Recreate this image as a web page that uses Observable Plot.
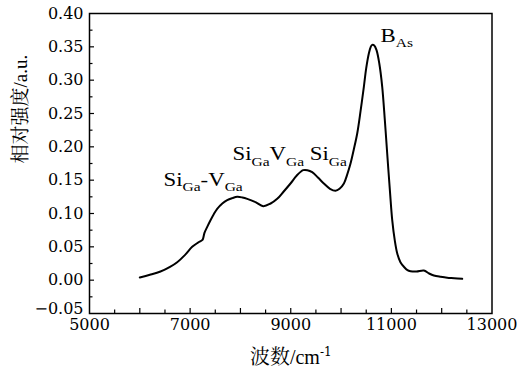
<!DOCTYPE html>
<html>
<head>
<meta charset="utf-8">
<script src="https://cdn.jsdelivr.net/npm/d3@7"></script>
<script src="https://cdn.jsdelivr.net/npm/@observablehq/plot@0.6"></script>
<style>
  html, body { margin: 0; padding: 0; background: #fff; }
  svg { display: block; }
</style>
</head>
<body>
<div id="chart"></div>
<script>
// Wavenumber (cm^-1)
const wavenumber = [6000, 6200, 6411, 6600, 6743, 6900, 7041, 7150, 7240, 7260, 7285, 7340, 7405, 7470, 7538, 7640, 7737, 7840, 7936, 8040, 8135, 8300, 8453, 8600, 8731, 8860, 8995, 9120, 9247, 9330, 9426, 9540, 9658, 9780, 9890, 9970, 10056, 10120, 10188, 10250, 10321, 10390, 10453, 10500, 10552, 10590, 10619, 10660, 10705, 10760, 10818, 10870, 10917, 10970, 11017, 11067, 11117, 11180, 11250, 11320, 11380, 11500, 11645, 11750, 11844, 11980, 12110, 12250, 12408];
// Relative intensity (a.u.)
const intensity = [0.004, 0.008, 0.013, 0.020, 0.027, 0.038, 0.050, 0.056, 0.060, 0.063, 0.071, 0.080, 0.090, 0.099, 0.107, 0.115, 0.120, 0.123, 0.125, 0.124, 0.122, 0.117, 0.111, 0.115, 0.122, 0.133, 0.145, 0.157, 0.165, 0.165, 0.162, 0.154, 0.145, 0.137, 0.134, 0.137, 0.145, 0.158, 0.175, 0.195, 0.220, 0.255, 0.290, 0.318, 0.340, 0.350, 0.353, 0.352, 0.345, 0.325, 0.290, 0.240, 0.190, 0.135, 0.090, 0.060, 0.040, 0.027, 0.020, 0.015, 0.0135, 0.013, 0.0145, 0.010, 0.007, 0.005, 0.0036, 0.003, 0.002];

// Tick values
const xTickLabels = [5000, 7000, 9000, 11000, 13000];
const xMajorTicks = [6000, 7000, 8000, 9000, 10000, 11000, 12000];
const xMinorTicks = [5500, 6500, 7500, 8500, 9500, 10500, 11500, 12500];
const yTickLabels = [0.00, 0.05, 0.10, 0.15, 0.20, 0.25, 0.30, 0.35, 0.40];
const yBottomLabel = [-0.05];
const yMajorTicks = [0.00, 0.05, 0.10, 0.15, 0.20, 0.25, 0.30, 0.35];
const yMinorTicks = [-0.025, 0.025, 0.075, 0.125, 0.175, 0.225, 0.275, 0.325, 0.375];

// Peak annotations
const annotationText = ["Si_{Ga}-V_{Ga}", "Si_{Ga}V_{Ga} Si_{Ga}", "B_{As}"];
const annotationX = [6471, 7842, 10784];
const annotationY = [0.142, 0.1796, 0.357];

const xLabel = "波数/cm^{-1}";
const yLabel = "相对强度/a.u.";

const W = 528, H = 371;
const mL = 89, mR = 36.5, mT = 13, mB = 58;
const innerW = W - mL - mR, innerH = H - mT - mB;

const spectrum = wavenumber.map((x, i) => ({x, y: intensity[i]}));
const annotations = annotationText.map((t, i) => ({t, x: annotationX[i], y: annotationY[i]}));

const digitFont = "'DejaVu Serif', serif";
const latinFont = "'Liberation Serif', 'Noto Serif CJK SC', serif";
const fmtY = d3.format(".2f");

const chart = Plot.plot({
  width: W,
  height: H,
  marginLeft: mL,
  marginRight: mR,
  marginTop: mT,
  marginBottom: mB,
  style: {background: "#fff", color: "#000"},
  x: {domain: [5000, 13000]},
  y: {domain: [-0.05, 0.40]},
  marks: [
    Plot.axisX(xTickLabels, {tickSize: 0, tickPadding: 5, fontSize: 16, tickFormat: d => String(d), label: null, className: "digits"}),
    Plot.axisY(yTickLabels, {tickSize: 0, tickPadding: 6, fontSize: 16, tickFormat: fmtY, label: null, className: "digits"}),
    Plot.axisY(yBottomLabel, {tickSize: 0, tickPadding: 6, fontSize: 16, tickFormat: fmtY, dy: -5, label: null, className: "digits"}),
    Plot.tickY(yMajorTicks, {y: d => d, stroke: "#000", strokeWidth: 1.2, insetRight: innerW - 5}),
    Plot.tickY(yMinorTicks, {y: d => d, stroke: "#000", strokeWidth: 1.2, insetRight: innerW - 3.5}),
    Plot.tickX(xMajorTicks, {x: d => d, stroke: "#000", strokeWidth: 1.2, insetTop: innerH - 5}),
    Plot.tickX(xMinorTicks, {x: d => d, stroke: "#000", strokeWidth: 1.2, insetTop: innerH - 3.5}),
    Plot.frame({stroke: "#000", strokeWidth: 1.5}),
    Plot.line(spectrum, {x: "x", y: "y", stroke: "#000", strokeWidth: 2, curve: "catmull-rom"}),
    Plot.text(annotations, {x: "x", y: "y", text: "t", textAnchor: "start", lineAnchor: "bottom", fontSize: 19, fill: "#000", className: "rich annot"}),
    Plot.text([xLabel], {text: d => d, frameAnchor: "bottom", dy: 44, lineAnchor: "middle", fontSize: 20, fill: "#000", className: "rich latin"}),
    Plot.text([yLabel], {text: d => d, frameAnchor: "left", dx: -69, rotate: -90, lineAnchor: "middle", fontSize: 19, fill: "#000", className: "latin"})
  ]
});

// Convert _{..} and ^{..} markup into real sub/superscript tspans
function richify(textEl) {
  const s = textEl.textContent;
  if (!/[_^]\{/.test(s)) return;
  const base = parseFloat(textEl.getAttribute("font-size") || textEl.parentNode.getAttribute("font-size") || 19);
  while (textEl.firstChild) textEl.removeChild(textEl.firstChild);
  const re = /([_^])\{([^}]*)\}/g;
  let last = 0, m, shift = 0;
  const ns = "http://www.w3.org/2000/svg";
  const add = (str, size, dy, sup) => {
    const t = document.createElementNS(ns, "tspan");
    t.textContent = str;
    if (size) t.setAttribute("font-size", size);
    if (dy) t.setAttribute("dy", dy);
    if (sup) t.setAttribute("class", "sup");
    textEl.appendChild(t);
  };
  while ((m = re.exec(s))) {
    if (m.index > last) { add(s.slice(last, m.index), null, -shift || null); shift = 0; }
    const isSub = m[1] === "_";
    const d = isSub ? base * 0.28 : -base * 0.4;
    add(m[2], base * (isSub ? 0.68 : 0.6), d - shift, !isSub);
    shift = d;
    last = re.lastIndex;
  }
  if (last < s.length) { add(s.slice(last), null, -shift || null); shift = 0; }
}
chart.querySelectorAll(".rich text").forEach(richify);

// Fonts: this Liberation Serif lacks usable digits, so numbers use DejaVu Serif
chart.querySelectorAll("g, text, tspan").forEach(el => el.removeAttribute("font-family"));
chart.style.fontFamily = latinFont;
chart.querySelectorAll(".digits, .digits text").forEach(el => el.style.fontFamily = digitFont);
chart.querySelectorAll(".latin text, .annot text").forEach(el => el.style.fontFamily = latinFont);
chart.querySelectorAll("tspan.sup").forEach(el => el.style.fontFamily = digitFont);

// Reference lettering is horizontally wide: stretch the peak labels
chart.querySelectorAll(".annot text").forEach(el => {
  const x = +(el.getAttribute("x") || 0), y = +(el.getAttribute("y") || 0);
  const tr = el.getAttribute("transform") || "";
  el.setAttribute("transform", `${tr} translate(${x},${y}) scale(1.2,1) translate(${-x},${-y})`);
});

document.getElementById("chart").appendChild(chart);
</script>
</body>
</html>
